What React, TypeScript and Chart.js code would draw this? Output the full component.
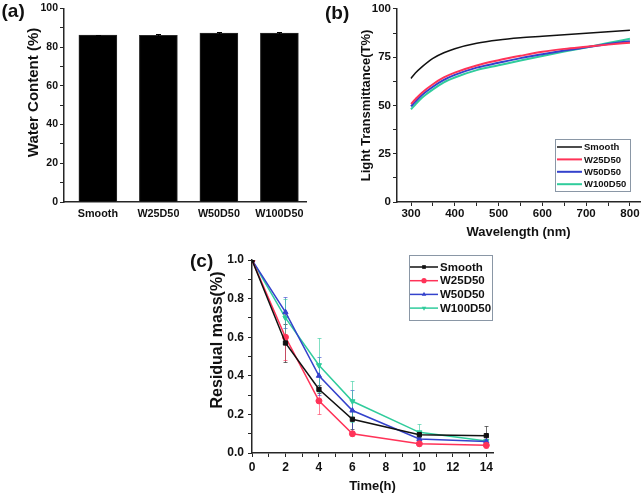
import React, { useEffect, useRef } from 'react';
import { Chart, registerables } from 'chart.js';

Chart.register(...registerables);

const FONT = "'Liberation Sans', Arial, Helvetica, sans-serif";
const AXIS = '#262626';

// ---------- shared series ----------
const seriesNames = ['Smooth', 'W25D50', 'W50D50', 'W100D50'];
const seriesColors = ['#111111', '#ff3358', '#3442cc', '#30cc9c'];

// ---------- (a) water content ----------
const waterCategories = ['Smooth', 'W25D50', 'W50D50', 'W100D50'];
const waterContent = [86.2, 86.0, 87.2, 87.2];
const waterError = [0.1, 0.5, 0.4, 0.4];

// ---------- (b) light transmittance ----------
const wavelengths = [300, 310, 325, 350, 375, 400, 450, 500, 550, 600, 650, 700, 750, 800];
const transSmooth = [64, 66.8, 70, 74.4, 77.3, 79.4, 82.2, 83.9, 85, 85.8, 86.6, 87.4, 88.2, 89];
const transW25 = [50.8, 53.2, 56.6, 61, 64.5, 67, 70.7, 73.4, 75.7, 77.8, 79.3, 80.4, 81.5, 82.5];
const transW50 = [49.5, 52, 55.4, 59.7, 63.2, 65.8, 69.6, 72.1, 74.5, 76.5, 78.4, 80.1, 81.8, 83.3];
const transW100 = [48, 50.5, 54, 58.3, 62, 64.5, 68.3, 70.8, 73.3, 75.6, 77.9, 80, 82.3, 84.5];

// ---------- (c) degradation ----------
const timeHours = [0, 2, 4, 6, 10, 14];
const massSmooth = [1.0, 0.57, 0.33, 0.175, 0.095, 0.09];
const massW25 = [1.0, 0.6, 0.27, 0.1, 0.048, 0.04];
const massW50 = [1.0, 0.73, 0.4, 0.22, 0.073, 0.06];
const massW100 = [1.0, 0.7, 0.455, 0.268, 0.107, 0.062];
const errSmooth = [0, 0.1, 0.02, 0.05, 0.01, 0.05];
const errW25 = [0, 0.12, 0.07, 0.012, 0.012, 0.015];
const errW50 = [0, 0.08, 0.1, 0.105, 0.02, 0.01];
const errW100 = [0, 0.1, 0.14, 0.105, 0.045, 0.01];
const pointStyles = ['rect', 'circle', 'triangle', 'triangle'];
const pointRotations = [0, 0, 0, 180];

// ---------- plugins ----------
function drawErrors(chart: any, opts: any) {
  const ctx = chart.ctx;
  chart.data.datasets.forEach((ds: any, di: number) => {
    const errs = ds.errors;
    if (!errs) return;
    const meta = chart.getDatasetMeta(di);
    const ys = chart.scales[meta.yAxisID];
    ctx.save();
    ctx.strokeStyle = ds.errorColor || ds.borderColor;
    ctx.lineWidth = opts.width ?? 1;
    const c = opts.cap ?? 3;
    meta.data.forEach((el: any, j: number) => {
      const e = errs[j];
      if (!e) return;
      const raw = ds.data[j];
      const v = typeof raw === 'number' ? raw : raw.y;
      const x = Math.round(el.x) + 0.5;
      const t = Math.round(ys.getPixelForValue(v + e)) + 0.5;
      const b = Math.round(ys.getPixelForValue(v - e)) + 0.5;
      ctx.beginPath();
      ctx.moveTo(x, t);
      ctx.lineTo(x, b);
      ctx.moveTo(x - c, t);
      ctx.lineTo(x + c, t);
      ctx.moveTo(x - c, b);
      ctx.lineTo(x + c, b);
      ctx.stroke();
    });
    ctx.restore();
  });
}

const errorBarPlugin = {
  id: 'errorBars',
  beforeDatasetsDraw(chart: any, _a: any, opts: any) {
    if (opts && opts.before) drawErrors(chart, opts);
  },
  afterDatasetsDraw(chart: any, _a: any, opts: any) {
    if (opts && !opts.before) drawErrors(chart, opts);
  },
};

function drawMarker(ctx: any, style: string, rot: number, x: number, y: number, r: number) {
  ctx.beginPath();
  if (style === 'rect') {
    const s = r * Math.SQRT1_2;
    ctx.rect(x - s, y - s, 2 * s, 2 * s);
  } else if (style === 'circle') {
    ctx.arc(x, y, r, 0, Math.PI * 2);
  } else if (style === 'triangle') {
    const dir = rot === 180 ? -1 : 1;
    ctx.moveTo(x, y - dir * r);
    ctx.lineTo(x - r * 0.866, y + dir * r * 0.5);
    ctx.lineTo(x + r * 0.866, y + dir * r * 0.5);
    ctx.closePath();
  }
  ctx.fill();
}

const boxLegendPlugin = {
  id: 'boxLegend',
  afterDraw(chart: any, _a: any, opts: any) {
    if (!opts || !opts.display) return;
    const ctx = chart.ctx;
    ctx.save();
    ctx.strokeStyle = '#8a97a6';
    ctx.lineWidth = 1;
    ctx.strokeRect(opts.x + 0.5, opts.y + 0.5, opts.w, opts.h);
    chart.data.datasets.forEach((ds: any, i: number) => {
      const cy = opts.y + opts.firstRow + i * opts.rowH;
      const x0 = opts.x + opts.pad;
      const x1 = x0 + opts.lineLen;
      ctx.strokeStyle = ds.borderColor;
      ctx.lineWidth = ds.borderWidth;
      ctx.beginPath();
      ctx.moveTo(x0, cy);
      ctx.lineTo(x1, cy);
      ctx.stroke();
      if (opts.markers) {
        ctx.fillStyle = ds.borderColor;
        drawMarker(ctx, ds.pointStyle, ds.pointRotation || 0, (x0 + x1) / 2, cy, opts.markerRadius);
      }
      ctx.fillStyle = '#111';
      ctx.font = `bold ${opts.fontSize}px ${FONT}`;
      ctx.textBaseline = 'middle';
      ctx.textAlign = 'left';
      ctx.fillText(ds.label, x1 + opts.textGap, cy + 0.5);
    });
    ctx.restore();
  },
};

const sideTitlePlugin = {
  id: 'sideTitle',
  afterDraw(chart: any, _a: any, opts: any) {
    if (!opts || !opts.text) return;
    const ctx = chart.ctx;
    ctx.save();
    ctx.translate(opts.x, opts.y);
    ctx.rotate(-Math.PI / 2);
    ctx.fillStyle = '#111';
    ctx.font = `bold ${opts.fontSize}px ${FONT}`;
    ctx.textAlign = 'center';
    ctx.textBaseline = 'middle';
    ctx.fillText(opts.text, 0, 0);
    ctx.restore();
  },
};

// ---------- helpers ----------
const border = { display: true, color: AXIS, width: 1.5 };
const gridTicks = (len: number) => ({
  display: true,
  drawOnChartArea: false,
  drawTicks: len > 0,
  tickLength: len,
  tickColor: AXIS,
  tickWidth: 1,
  offset: false,
});
const tickFont = (size: number) => ({ family: FONT, size, weight: 'bold' as const });
const titleFont = (size: number) => ({ family: FONT, size, weight: 'bold' as const });

function configA(): any {
  return {
    type: 'bar',
    data: {
      datasets: [
        {
          label: 'Water Content',
          data: waterContent.map((v, i) => ({ x: i, y: v })),
          backgroundColor: '#000000',
          borderColor: '#2b2b2b',
          borderWidth: 1,
          barThickness: 38,
          errors: waterError,
          errorColor: '#000000',
        },
      ],
    },
    options: {
      responsive: false,
      animation: false,
      devicePixelRatio: 1,
      layout: { padding: { left: 0, right: 14, top: 7, bottom: 0 } },
      plugins: {
        legend: { display: false },
        tooltip: { enabled: false },
        errorBars: { cap: 2.5, width: 1 },
        sideTitle: { text: 'Water Content (%)', x: 34, y: 92.5, fontSize: 15 },
      },
      scales: {
        x: {
          type: 'linear',
          offset: false,
          min: -0.56,
          max: 3.44,
          afterBuildTicks: (s: any) => {
            s.ticks = waterCategories.map((_, i) => ({ value: i }));
          },
          afterFit: (s: any) => {
            s.height = 38;
          },
          border,
          grid: gridTicks(0),
          ticks: {
            autoSkip: false,
            maxRotation: 0,
            padding: 6,
            color: '#111',
            font: tickFont(10.8),
            callback: (v: number) => waterCategories[v] ?? '',
          },
        },
        y: {
          min: 0,
          max: 100,
          afterFit: (s: any) => {
            s.width = 64;
          },
          border,
          grid: gridTicks(4),
          ticks: {
            stepSize: 10,
            autoSkip: false,
            padding: 2,
            color: '#111',
            font: tickFont(10.5),
            callback: (v: number) => (Math.round(v) % 20 === 0 ? String(v) : ''),
          },
        },
      },
    },
    plugins: [errorBarPlugin, sideTitlePlugin],
  };
}

function configB(): any {
  const series = [transSmooth, transW25, transW50, transW100];
  return {
    type: 'line',
    data: {
      datasets: series.map((vals, i) => ({
        label: seriesNames[i],
        data: vals.map((v, j) => ({ x: wavelengths[j], y: v })),
        borderColor: seriesColors[i],
        borderWidth: i === 0 ? 1.5 : 2,
        pointRadius: 0,
        cubicInterpolationMode: 'monotone',
        fill: false,
      })),
    },
    options: {
      responsive: false,
      animation: false,
      devicePixelRatio: 1,
      layout: { padding: { left: 0, right: 3, top: 7, bottom: 0 } },
      plugins: {
        legend: { display: false },
        tooltip: { enabled: false },
        boxLegend: {
          display: true,
          x: 235,
          y: 139,
          w: 75,
          h: 52,
          firstRow: 8,
          rowH: 12.4,
          pad: 2,
          lineLen: 25,
          textGap: 2,
          fontSize: 9.5,
          markers: false,
        },
      },
      scales: {
        x: {
          type: 'linear',
          min: 268,
          max: 823,
          afterBuildTicks: (s: any) => {
            const t: any[] = [];
            for (let v = 300; v <= 800; v += 50) t.push({ value: v });
            s.ticks = t;
          },
          afterFit: (s: any) => {
            s.height = 38;
          },
          border,
          grid: gridTicks(4),
          title: {
            display: true,
            text: 'Wavelength (nm)',
            color: '#111',
            font: titleFont(13),
            padding: { top: 0, bottom: 0 },
          },
          ticks: {
            autoSkip: false,
            maxRotation: 0,
            padding: 1,
            color: '#111',
            font: tickFont(11.5),
            callback: (v: number) => (v % 100 === 0 ? String(v) : ''),
          },
        },
        y: {
          min: 0,
          max: 100,
          afterBuildTicks: (s: any) => {
            const t: any[] = [];
            for (let v = 0; v <= 100; v += 12.5) t.push({ value: v });
            s.ticks = t;
          },
          afterFit: (s: any) => {
            s.width = 77;
          },
          border,
          grid: gridTicks(4),
          title: {
            display: true,
            text: 'Light Transmittance(T%)',
            color: '#111',
            font: titleFont(13),
            padding: { top: 39, bottom: 0 },
          },
          ticks: {
            autoSkip: false,
            padding: 2,
            color: '#111',
            font: tickFont(11.5),
            callback: (v: number) => (v % 25 === 0 ? String(v) : ''),
          },
        },
      },
    },
    plugins: [boxLegendPlugin],
  };
}

function configC(): any {
  const series = [massSmooth, massW25, massW50, massW100];
  const errs = [errSmooth, errW25, errW50, errW100];
  return {
    type: 'line',
    data: {
      datasets: series.map((vals, i) => ({
        label: seriesNames[i],
        data: vals.map((v, j) => ({ x: timeHours[j], y: v })),
        borderColor: seriesColors[i],
        backgroundColor: seriesColors[i],
        pointBackgroundColor: seriesColors[i],
        pointBorderColor: seriesColors[i],
        borderWidth: 1.5,
        pointRadius: 3,
        pointBorderWidth: 1,
        pointStyle: pointStyles[i],
        pointRotation: pointRotations[i],
        tension: 0,
        fill: false,
        errors: errs[i],
        errorColor: seriesColors[i] + '99',
      })),
    },
    options: {
      responsive: false,
      animation: false,
      devicePixelRatio: 1,
      layout: { padding: { left: 0, right: 7, top: 20, bottom: 0 } },
      plugins: {
        legend: { display: false },
        tooltip: { enabled: false },
        errorBars: { cap: 2, width: 1, before: true },
        sideTitle: { text: 'Residual mass(%)', x: 38, y: 100, fontSize: 16 },
        boxLegend: {
          display: true,
          x: 229,
          y: 15,
          w: 83,
          h: 65,
          firstRow: 12,
          rowH: 13.7,
          pad: 1,
          lineLen: 28,
          textGap: 2,
          fontSize: 11.5,
          markers: true,
          markerRadius: 2.6,
        },
      },
      scales: {
        x: {
          type: 'linear',
          min: 0,
          max: 14.4,
          afterBuildTicks: (s: any) => {
            const t: any[] = [];
            for (let v = 0; v <= 14; v += 1) t.push({ value: v });
            s.ticks = t;
          },
          afterFit: (s: any) => {
            s.height = 42;
          },
          border,
          grid: gridTicks(4),
          title: {
            display: true,
            text: 'Time(h)',
            color: '#111',
            font: titleFont(13),
            padding: { top: 0, bottom: 1 },
          },
          ticks: {
            autoSkip: false,
            maxRotation: 0,
            padding: 3,
            color: '#111',
            font: tickFont(12),
            callback: (v: number) => (v % 2 === 0 ? String(v) : ''),
          },
        },
        y: {
          min: 0,
          max: 1,
          afterBuildTicks: (s: any) => {
            const t: any[] = [];
            for (let k = 0; k <= 10; k++) t.push({ value: k / 10 });
            s.ticks = t;
          },
          afterFit: (s: any) => {
            s.width = 72;
          },
          border,
          grid: gridTicks(4),
          ticks: {
            autoSkip: false,
            padding: 4,
            color: '#111',
            font: tickFont(12),
            callback: (v: number) => (Math.round(v * 10) % 2 === 0 ? v.toFixed(1) : ''),
          },
        },
      },
    },
    plugins: [errorBarPlugin, boxLegendPlugin, sideTitlePlugin],
  };
}

function ChartCanvas(props: { make: () => any; left: number; top: number; width: number; height: number }) {
  const ref = useRef<HTMLCanvasElement>(null);
  useEffect(() => {
    const chart = new Chart(ref.current as HTMLCanvasElement, props.make());
    return () => chart.destroy();
  }, []);
  return (
    <canvas
      ref={ref}
      width={props.width}
      height={props.height}
      style={{ position: 'absolute', left: props.left, top: props.top, width: props.width, height: props.height }}
    />
  );
}

const labelStyle = (left: number, top: number): React.CSSProperties => ({
  position: 'absolute',
  left,
  top,
  fontFamily: FONT,
  fontWeight: 'bold',
  fontSize: 19,
  lineHeight: '19px',
  color: '#111',
});

export default function App() {
  return (
    <div style={{ position: 'absolute', left: 0, top: 0, width: 643, height: 495, background: '#fff', overflow: 'hidden' }}>
      <ChartCanvas make={configA} left={0} top={0} width={320} height={240} />
      <ChartCanvas make={configB} left={320} top={0} width={323} height={240} />
      <ChartCanvas make={configC} left={180} top={240} width={320} height={255} />
      <div style={labelStyle(1.5, 1)}>(a)</div>
      <div style={labelStyle(325, 3)}>(b)</div>
      <div style={labelStyle(190, 251)}>(c)</div>
    </div>
  );
}
